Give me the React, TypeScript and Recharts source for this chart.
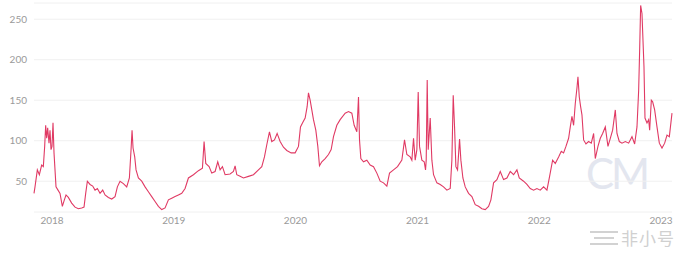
import React from "react";
import { LineChart, Line, XAxis, YAxis, CartesianGrid } from "recharts";

const dates: string[] = [
  "2017-11-08","2017-11-11","2017-11-18","2017-11-24","2017-12-01","2017-12-06","2017-12-10","2017-12-13","2017-12-16","2017-12-19","2017-12-23","2017-12-26","2017-12-29",
  "2018-01-01","2018-01-04","2018-01-07","2018-01-13","2018-01-19","2018-01-25","2018-02-01","2018-02-07","2018-02-12","2018-02-19","2018-03-01","2018-03-11","2018-03-21","2018-03-31",
  "2018-04-07","2018-04-12","2018-04-17","2018-04-25","2018-05-03","2018-05-10","2018-05-17","2018-05-25","2018-06-02","2018-06-09","2018-06-19","2018-06-29","2018-07-09","2018-07-16",
  "2018-07-24","2018-08-03","2018-08-13","2018-08-21","2018-08-26","2018-08-29","2018-09-01","2018-09-06","2018-09-10","2018-09-17","2018-09-27","2018-10-07","2018-10-17","2018-10-27",
  "2018-11-06","2018-11-16","2018-11-26","2018-12-06","2018-12-16","2018-12-26",
  "2019-01-05","2019-01-15","2019-01-25","2019-02-04","2019-02-14","2019-03-01","2019-03-16","2019-03-28","2019-04-02","2019-04-07","2019-04-17","2019-04-25","2019-05-05","2019-05-13",
  "2019-05-20","2019-05-27","2019-06-04","2019-06-19","2019-06-29","2019-07-04","2019-07-09","2019-07-19","2019-07-29","2019-08-13","2019-08-28","2019-09-12","2019-09-22","2019-09-30",
  "2019-10-07","2019-10-15","2019-10-22","2019-10-30","2019-11-07","2019-11-16","2019-11-26","2019-12-06","2019-12-19","2019-12-31",
  "2020-01-10","2020-01-16","2020-01-22","2020-01-30","2020-02-05","2020-02-09","2020-02-14","2020-02-19","2020-02-24","2020-03-02","2020-03-08","2020-03-13","2020-03-20","2020-03-30",
  "2020-04-09","2020-04-17","2020-04-24","2020-05-04","2020-05-14","2020-05-29","2020-06-08","2020-06-18","2020-06-25","2020-07-03","2020-07-08","2020-07-11","2020-07-15","2020-07-23",
  "2020-08-02","2020-08-12","2020-08-22","2020-09-01","2020-09-11","2020-09-21","2020-10-01","2020-10-09","2020-10-21","2020-11-02","2020-11-15","2020-11-23","2020-11-30","2020-12-10",
  "2020-12-15","2020-12-20","2020-12-25","2020-12-30",
  "2021-01-03","2021-01-07","2021-01-14","2021-01-21","2021-01-25","2021-01-27","2021-01-30","2021-02-02","2021-02-08","2021-02-13","2021-02-18","2021-02-28","2021-03-10","2021-03-20",
  "2021-03-30","2021-04-09","2021-04-14","2021-04-18","2021-04-22","2021-04-26","2021-05-01","2021-05-07","2021-05-11","2021-05-17","2021-05-24","2021-06-03","2021-06-13","2021-06-23",
  "2021-07-03","2021-07-13","2021-07-23","2021-08-02","2021-08-09","2021-08-17","2021-08-27","2021-09-06","2021-09-16","2021-09-26","2021-10-06","2021-10-16","2021-10-26","2021-11-02",
  "2021-11-15","2021-11-25","2021-12-05","2021-12-15","2021-12-25",
  "2022-01-04","2022-01-14","2022-01-24","2022-02-01","2022-02-10","2022-02-18","2022-02-28","2022-03-08","2022-03-15","2022-03-22","2022-03-30","2022-04-04","2022-04-09","2022-04-14",
  "2022-04-19","2022-04-24","2022-04-27","2022-05-01","2022-05-05","2022-05-09","2022-05-14","2022-05-21","2022-05-29","2022-06-06","2022-06-13","2022-06-18","2022-06-26","2022-07-03",
  "2022-07-10","2022-07-18","2022-07-26","2022-08-02","2022-08-09","2022-08-17","2022-08-22","2022-08-29","2022-09-06","2022-09-16","2022-09-26","2022-10-06","2022-10-14","2022-10-21",
  "2022-10-26","2022-10-29","2022-11-01","2022-11-05","2022-11-08","2022-11-11","2022-11-14","2022-11-20","2022-11-25","2022-11-28","2022-12-03","2022-12-07","2022-12-13","2022-12-20",
  "2022-12-27",
  "2023-01-04","2023-01-12","2023-01-19","2023-01-26","2023-02-03",
];

const values: number[] = [
  35,43,64,58,70,68,93,119,103,116,97,113,89,
  93,122,85,43,39,35,19,27,33,30,23,18,16,17,
  18,35,50,46,44,39,41,35,39,33,30,28,31,43,
  50,47,43,54,89,113,91,80,64,54,50,43,37,31,
  25,19,15,17,27,29,
  31,33,35,41,54,58,63,66,99,72,68,60,62,74,
  64,68,58,59,62,69,58,56,54,56,58,64,68,80,
  95,111,99,101,109,99,92,88,85,85,
  93,117,122,128,142,159,150,138,126,113,93,69,74,78,
  83,89,105,119,126,134,136,134,119,111,154,101,78,74,
  76,70,68,60,50,48,44,60,64,68,76,101,83,80,
  76,103,76,89,
  160,93,76,74,64,76,175,89,128,76,58,48,46,43,
  39,41,76,156,117,68,64,102,76,54,43,35,31,21,
  19,16,15,19,27,48,52,62,52,54,62,58,64,54,
  50,46,41,39,41,
  39,43,39,56,76,72,80,87,85,93,103,117,130,119,
  146,165,179,154,142,132,101,96,99,97,109,78,93,103,
  109,117,93,103,113,138,109,99,97,99,97,105,96,117,
  162,212,267,257,224,191,128,122,126,113,150,148,138,117,
  97,
  91,97,107,105,134,
];

const yTicks: number[] = [50, 100, 150, 200, 250];
const yearLabels: string[] = ["2018", "2019", "2020", "2021", "2022", "2023"];

const toTs = (d: string) => {
  const [y, m, day] = d.split("-").map(Number);
  return Date.UTC(y, m - 1, day);
};

const data = dates.map((d, i) => ({ t: toTs(d), v: values[i] }));
const xTicks = yearLabels.map((y) => Date.UTC(Number(y), 0, 1));

const tickStyle = { fontSize: 10, fill: "#9a9a9a", fontFamily: "Lato, 'Open Sans', sans-serif" };

export default function App() {
  return (
    <div style={{ position: "absolute", left: 0, top: 0, width: 686, height: 255, background: "#fff" }}>
      <div
        style={{
          position: "absolute",
          left: 586,
          top: 152,
          fontSize: 42,
          fontFamily: "Lato, sans-serif",
          fontWeight: 400,
          color: "#e3e6ef",
          letterSpacing: -3,
          lineHeight: "42px",
        }}
      >
        CM
      </div>
      <LineChart width={686} height={255} data={data} margin={{ top: 3, right: 14, bottom: 0, left: 0 }}>
        <CartesianGrid vertical={false} stroke="#f0f0f0" />
        <XAxis
          dataKey="t"
          type="number"
          domain={["dataMin", "dataMax"]}
          ticks={xTicks}
          tickFormatter={(t: number) => String(new Date(t).getUTCFullYear())}
          axisLine={false}
          tickLine={false}
          tickSize={0}
          tickMargin={5}
          height={43}
          tick={tickStyle}
          interval={0}
        />
        <YAxis
          domain={[12, 270]}
          ticks={yTicks}
          axisLine={false}
          tickLine={false}
          tickSize={0}
          tickMargin={7}
          width={34}
          tick={tickStyle}
          interval={0}
        />
        <Line
          type="linear"
          dataKey="v"
          stroke="#e03a64"
          strokeWidth={1.1}
          dot={false}
          isAnimationActive={false}
        />
      </LineChart>
      <div style={{ position: "absolute", left: 590, top: 230, width: 28, height: 16 }}>
        <div style={{ position: "absolute", left: 0, top: 1, width: 28, height: 2, background: "#d2d2d2" }} />
        <div style={{ position: "absolute", left: 4, top: 7, width: 20, height: 2, background: "#d2d2d2" }} />
        <div style={{ position: "absolute", left: 0, top: 13, width: 28, height: 2, background: "#d2d2d2" }} />
      </div>
      <div
        style={{
          position: "absolute",
          left: 621,
          top: 229,
          fontSize: 17,
          lineHeight: "17px",
          color: "#d0d0d0",
          fontFamily: "'Noto Sans CJK SC', sans-serif",
          letterSpacing: 1,
        }}
      >
        非小号
      </div>
    </div>
  );
}
